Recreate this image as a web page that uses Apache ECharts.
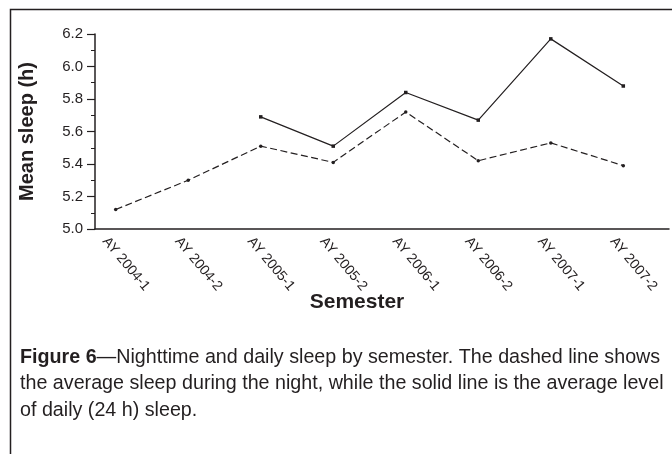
<!DOCTYPE html>
<html>
<head>
<meta charset="utf-8">
<script src="https://cdn.jsdelivr.net/npm/echarts@6/dist/echarts.min.js"></script>
<style>
  html, body { margin: 0; padding: 0; background: #fff; }
  #main { width: 672px; height: 454px; }
</style>
</head>
<body>
<div id="main"></div>
<script>
var semesters = ['AY 2004-1', 'AY 2004-2', 'AY 2005-1', 'AY 2005-2', 'AY 2006-1', 'AY 2006-2', 'AY 2007-1', 'AY 2007-2'];
var nightSleep = [5.12, 5.30, 5.51, 5.41, 5.72, 5.42, 5.53, 5.39];
var dailySleep = [null, null, 5.69, 5.51, 5.84, 5.67, 6.17, 5.88];

var ink = '#231f20';
var font = '"Liberation Sans", Arial, sans-serif';

var myChart = echarts.init(document.getElementById('main'));

var option = {
    animation: false,
    backgroundColor: '#fff',
    grid: [
        // data grid
        {left: 115.7, right: 48.7, top: 34, bottom: 225},
        // frame grid (axis lines)
        {left: 95, right: 3, top: 34, bottom: 225},
        // label grid
        {left: 105, right: 59.4, top: 34, bottom: 225}
    ],
    xAxis: [
        {
            gridIndex: 0,
            type: 'category',
            data: semesters,
            boundaryGap: false,
            axisLine: {show: false},
            axisTick: {show: false},
            axisLabel: {show: false},
            splitLine: {show: false}
        },
        {
            gridIndex: 1,
            type: 'value',
            min: 0,
            max: 1,
            axisLine: {show: true, lineStyle: {color: ink, width: 1.5}},
            axisTick: {show: false},
            axisLabel: {show: false},
            splitLine: {show: false}
        },
        {
            gridIndex: 2,
            type: 'category',
            data: semesters,
            boundaryGap: false,
            axisLine: {show: false},
            axisTick: {show: false},
            splitLine: {show: false},
            axisLabel: {
                interval: 0,
                rotate: -50,
                margin: 10,
                color: ink,
                fontFamily: font,
                fontSize: 14
            }
        }
    ],
    yAxis: [
        {
            gridIndex: 0,
            type: 'value',
            min: 5.0,
            max: 6.2,
            interval: 0.2,
            show: false
        },
        {
            gridIndex: 1,
            type: 'value',
            min: 5.0,
            max: 6.2,
            interval: 0.2,
            name: 'Mean sleep (h)',
            nameLocation: 'middle',
            nameGap: 58,
            nameTextStyle: {
                color: ink,
                fontFamily: font,
                fontSize: 20,
                fontWeight: 'bold'
            },
            axisLine: {show: true, lineStyle: {color: ink, width: 1.5}},
            axisTick: {show: true, length: 8, lineStyle: {color: ink, width: 1.2}},
            minorTick: {show: true, splitNumber: 2, length: 4, lineStyle: {color: ink, width: 1}},
            splitLine: {show: false},
            axisLabel: {
                margin: 12,
                color: ink,
                fontFamily: font,
                fontSize: 15,
                formatter: function (v) { return v.toFixed(1); }
            }
        },
        {
            gridIndex: 2,
            type: 'value',
            min: 5.0,
            max: 6.2,
            interval: 0.2,
            show: false
        }
    ],
    graphic: [
        {
            type: 'polyline',
            silent: true,
            shape: {points: [[672, 9.5], [10.5, 9.5], [10.5, 454]]},
            style: {stroke: ink, lineWidth: 1.5, fill: null}
        },
        {
            type: 'text',
            x: 357,
            y: 302,
            style: {
                text: 'Semester',
                fill: ink,
                font: 'bold 21px ' + font,
                align: 'center',
                verticalAlign: 'middle'
            }
        },
        {
            type: 'text',
            x: 20,
            y: 344,
            style: {
                text: '{b|Figure 6}{n|\u2014Nighttime and daily sleep by semester. The dashed line shows}\n' +
                      '{n|the average sleep during the night, while the solid line is the average level}\n' +
                      '{n|of daily (24 h) sleep.}',
                fill: ink,
                rich: {
                    b: {fontFamily: font, fontSize: 19.7, fontWeight: 'bold', color: ink, lineHeight: 26.5},
                    n: {fontFamily: font, fontSize: 19.7, color: ink, lineHeight: 26.5}
                }
            }
        }
    ],
    series: [
        {
            name: 'Nighttime sleep',
            type: 'line',
            xAxisIndex: 0,
            yAxisIndex: 0,
            data: nightSleep,
            symbol: 'circle',
            symbolSize: 3.5,
            itemStyle: {color: ink},
            lineStyle: {color: ink, width: 1.2, type: [7, 3.5]}
        },
        {
            name: 'Daily sleep',
            type: 'line',
            xAxisIndex: 0,
            yAxisIndex: 0,
            data: dailySleep,
            connectNulls: false,
            symbol: 'rect',
            symbolSize: 3.5,
            itemStyle: {color: ink},
            lineStyle: {color: ink, width: 1.2}
        }
    ]
};
myChart.setOption(option);
</script>
</body>
</html>
